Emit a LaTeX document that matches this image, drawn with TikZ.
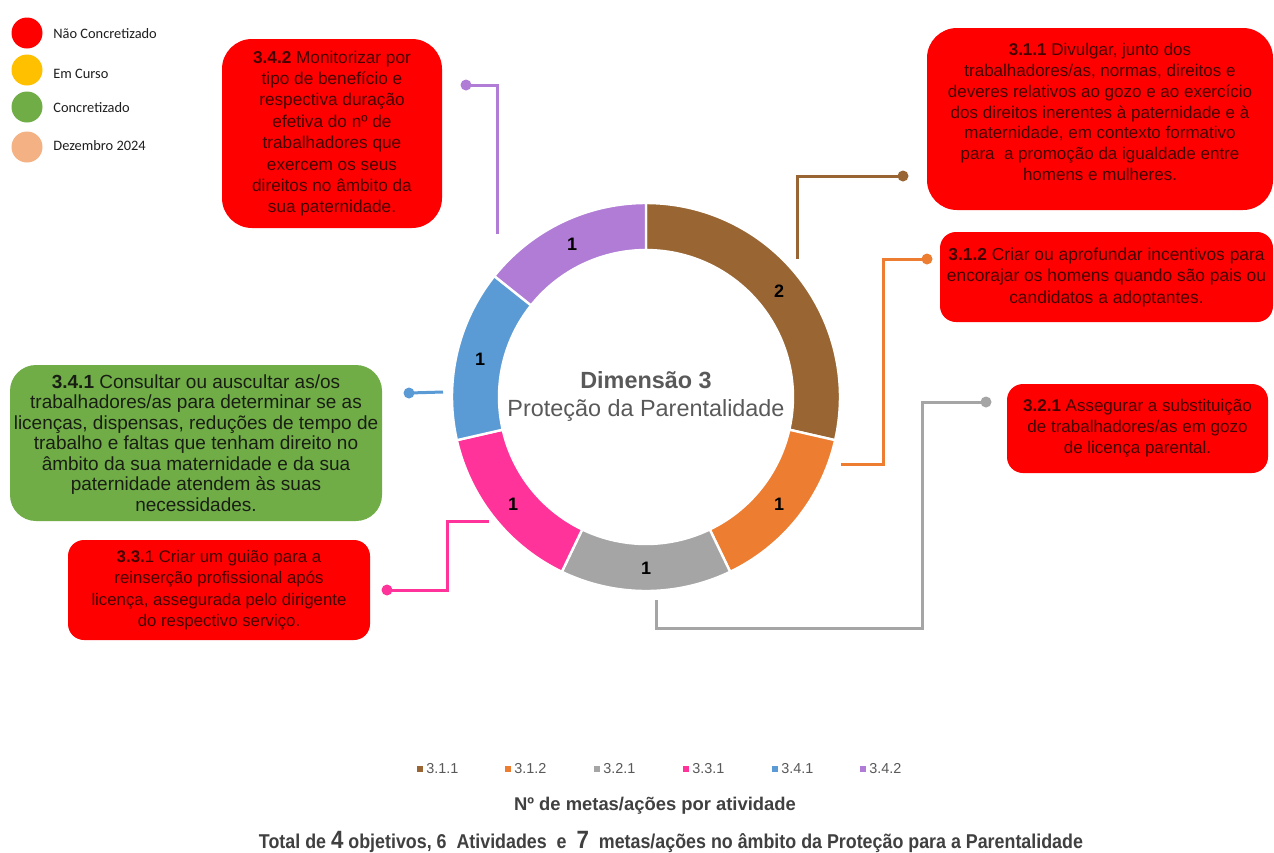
\documentclass[tikz,border=0pt]{standalone}
\usepackage{fontspec}
\usepackage{graphicx}
\setmainfont{Liberation Sans}
\newfontfamily\calibri{Carlito}

\definecolor{cBrown}{RGB}{153,102,51}
\definecolor{cOrange}{RGB}{237,125,49}
\definecolor{cGray}{RGB}{165,165,165}
\definecolor{cPink}{RGB}{255,51,153}
\definecolor{cBlue}{RGB}{91,155,213}
\definecolor{cPurple}{RGB}{176,124,214}
\definecolor{cRed}{RGB}{255,0,0}
\definecolor{cGreen}{RGB}{112,173,71}
\definecolor{cYellow}{RGB}{255,192,0}
\definecolor{cPeach}{RGB}{244,177,131}
\definecolor{redText}{RGB}{70,0,0}
\definecolor{greenText}{RGB}{25,30,20}
\definecolor{labelGray}{RGB}{89,89,89}
\definecolor{titleGray}{RGB}{64,64,64}

% annular sector of the donut: start angle, end angle, colour
\newcommand\ringseg[3]{%
  \filldraw[fill=#3, draw=white, line width=1.2pt]
    plot[domain=#1:#2, samples=60, variable=\t] ({646+194*cos(\t)},{397-194*sin(\t)})
    -- plot[domain=#2:#1, samples=60, variable=\t] ({646+147*cos(\t)},{397-147*sin(\t)})
    -- cycle;}

\begin{document}
\begin{tikzpicture}[x=0.5pt, y=-0.5pt,
  goalbox/.style={fill=cRed, draw=none, align=center, inner sep=0pt, text=redText},
  donebox/.style={goalbox, fill=cGreen, text=greenText},
  enddot/.style={circle, fill=#1, inner sep=0pt, minimum size=5.5pt},
  leader/.style={draw=#1, line width=1.5pt},
  statusdot/.style={circle, fill=#1, inner sep=0pt, minimum size=15.5pt},
  statustext/.style={anchor=west, inner sep=0pt, text={rgb,255:red,30;green,30;blue,30},
    font=\calibri\fontsize{7.2pt}{8.5pt}\selectfont},
  keysq/.style={fill=#1, inner sep=0pt, minimum size=3.2pt},
  keytext/.style={anchor=west, inner sep=0pt, text=labelGray, font=\fontsize{7.2pt}{8.5pt}\selectfont},
  seglabel/.style={font=\bfseries\fontsize{9pt}{10pt}\selectfont, text=black}]

\fill[white] (0,0) rectangle (1274,852);
\useasboundingbox (0,0) rectangle (1274,852);

% status key
\node[statusdot=cRed]    (sRed)    at (27,33)  {};
\node[statusdot=cYellow] (sYellow) at (27,70)  {};
\node[statusdot=cGreen]  (sGreen)  at (27,107) {};
\node[statusdot=cPeach]  (sPeach)  at (27,147) {};
\node[statustext] (tRed)    at (53,34)  {Não Concretizado};
\node[statustext] (tYellow) at (53,74)  {Em Curso};
\node[statustext] (tGreen)  at (53,108) {Concretizado};
\node[statustext] (tPeach)  at (53,146) {Dezembro 2024};

% donut: 7 actions, 2 for 3.1.1 and 1 for each other activity
\ringseg{-12.857}{90}{cBrown}
\ringseg{-64.286}{-12.857}{cOrange}
\ringseg{-115.714}{-64.286}{cGray}
\ringseg{-167.143}{-115.714}{cPink}
\ringseg{-218.571}{-167.143}{cBlue}
\ringseg{-270}{-218.571}{cPurple}

\node[seglabel] (n311) at (779,291) {2};
\node[seglabel] (n312) at (779,504) {1};
\node[seglabel] (n321) at (646,568) {1};
\node[seglabel] (n331) at (513,504) {1};
\node[seglabel] (n341) at (480,359) {1};
\node[seglabel] (n342) at (572,244) {1};

\node[align=center, text=labelGray, font=\fontsize{11.7pt}{14pt}\selectfont] (centre) at (646,396)
  {\textbf{Dimensão 3}\\Proteção da Parentalidade};

% activity boxes
\node[goalbox, minimum width=110pt, minimum height=94.5pt, rounded corners=15pt,
  font=\fontsize{8.6pt}{10.7pt}\selectfont] (b342) at (332,133.5)
  {\textbf{3.4.2} Monitorizar por\\tipo de benefício e\\respectiva duração\\efetiva do nº de\\trabalhadores que\\exercem os seus\\direitos no âmbito da\\sua paternidade.};

\node[goalbox, minimum width=173pt, minimum height=91pt, rounded corners=15pt,
  font=\fontsize{8.5pt}{10.4pt}\selectfont] (b311) at (1100,119)
  {\textbf{3.1.1} Divulgar, junto dos\\trabalhadores/as, normas, direitos e\\deveres relativos ao gozo e ao exercício\\dos direitos inerentes à paternidade e à\\maternidade, em contexto formativo\\para~ a promoção da igualdade entre\\homens e mulheres.\\[-3.4pt]};

\node[goalbox, minimum width=166.5pt, minimum height=45pt, rounded corners=8pt,
  font=\fontsize{8.7pt}{10.75pt}\selectfont] (b312) at (1106.5,277)
  {\textbf{3.1.2} Criar ou aprofundar incentivos para\\encorajar os homens quando são pais ou\\candidatos a adoptantes.};

\node[goalbox, minimum width=130.5pt, minimum height=44.5pt, rounded corners=8pt,
  font=\fontsize{8.5pt}{10.5pt}\selectfont] (b321) at (1137.5,428.5)
  {\textbf{3.2.1} Assegurar a substituição\\de trabalhadores/as em gozo\\de licença parental.};

\node[donebox, minimum width=186pt, minimum height=78pt, rounded corners=13pt,
  font=\fontsize{9.5pt}{10.25pt}\selectfont] (b341) at (196,443)
  {\textbf{3.4.1} Consultar ou auscultar as/os\\trabalhadores/as para determinar se as\\licenças, dispensas, reduções de tempo de\\trabalho e faltas que tenham direito no\\âmbito da sua maternidade e da sua\\paternidade atendem às suas\\necessidades.};

\node[goalbox, minimum width=151pt, minimum height=50pt, rounded corners=8pt,
  font=\fontsize{8.4pt}{10.75pt}\selectfont] (b331) at (219,590)
  {\textbf{3.3.}1 Criar um guião para a\\reinserção profissional após\\licença, assegurada pelo dirigente\\do respectivo serviço.};

% leader lines from the boxes to the donut
\coordinate (p311) at (903,176);  \coordinate (e311) at (797,259);
\coordinate (p312) at (927,259);  \coordinate (e312) at (841,464);
\coordinate (p321) at (986,402);  \coordinate (e321) at (656,600);
\coordinate (p331) at (387,590);  \coordinate (e331) at (489,521);
\coordinate (p341) at (409,393);  \coordinate (e341) at (443,392);
\coordinate (p342) at (466,85);   \coordinate (e342) at (497,234);

\draw[leader=cBrown]  (p311) -| (e311);
\draw[leader=cOrange] (p312) -- ++(-44,0) |- (e312);
\draw[leader=cGray]   (p321) -- ++(-64,0) -- ++(0,226) -| (e321);
\draw[leader=cPink]   (p331) -- ++(60,0) |- (e331);
\draw[leader=cBlue]   (p341) -- (e341);
\draw[leader=cPurple] (p342) -| (e342);

\node[enddot=cBrown]  (d311) at (p311) {};
\node[enddot=cOrange] (d312) at (p312) {};
\node[enddot=cGray]   (d321) at (p321) {};
\node[enddot=cPink]   (d331) at (p331) {};
\node[enddot=cBlue]   (d341) at (p341) {};
\node[enddot=cPurple] (d342) at (p342) {};

% chart key
\foreach \xx/\lab/\col [count=\i] in {420/3.1.1/cBrown, 508/3.1.2/cOrange, 597/3.2.1/cGray,
    686/3.3.1/cPink, 775/3.4.1/cBlue, 863/3.4.2/cPurple} {
  \node[keysq=\col] (key\i) at (\xx,769) {};
  \node[keytext] (keyt\i) at (\xx+6,769) {\lab};
}

\node[font=\bfseries\fontsize{9.2pt}{11pt}\selectfont, text=titleGray] (chartTitle) at (655,806)
  {Nº de metas/ações por atividade};

\node[text=titleGray, inner sep=1pt] (summary) at (671,842)
  {\resizebox{412pt}{\height}{\bfseries\fontsize{10pt}{11pt}\selectfont Total de {\fontsize{12.5pt}{13pt}\selectfont 4} objetivos, 6~ Atividades~ e~ {\fontsize{12.5pt}{13pt}\selectfont 7}~ metas/ações no âmbito da Proteção para a Parentalidade}};

\end{tikzpicture}
\end{document}
